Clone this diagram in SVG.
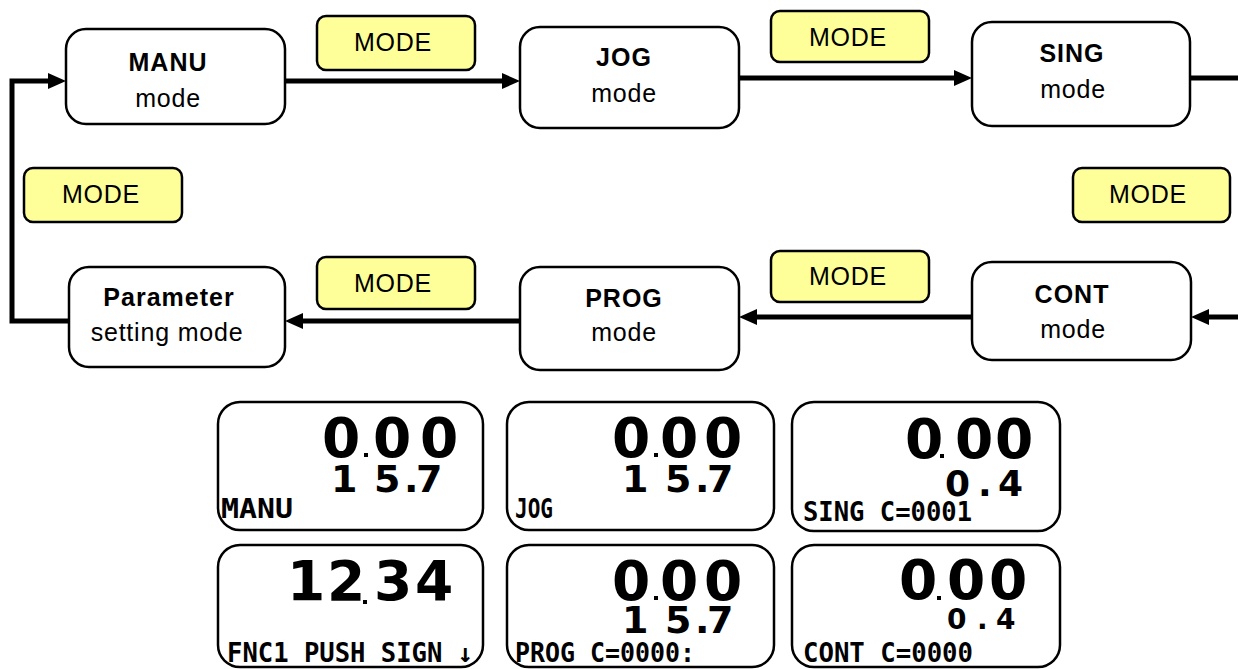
<svg xmlns="http://www.w3.org/2000/svg" width="1238" height="669" viewBox="0 0 1238 669">
<defs>
<style>
.box{fill:#fff;stroke:#000;stroke-width:2.5}
.lbl{fill:#ffff99;stroke:#000;stroke-width:2.5}
.lcd{fill:#fff;stroke:#000;stroke-width:2.5}
.t{font-family:"Liberation Sans",Arial,sans-serif;font-size:25px;fill:#000;text-anchor:middle;letter-spacing:0.8px}
.b{font-weight:bold;letter-spacing:1px}
.con{fill:none;stroke:#000;stroke-width:5}
.big{font-family:"DejaVu Sans",sans-serif;font-weight:bold;font-size:55px;fill:#000}
.mid{font-size:38px}
.sm{font-family:"DejaVu Sans Mono",monospace;font-weight:bold;font-size:26px;fill:#000}
</style>
<marker id="ah" markerUnits="userSpaceOnUse" markerWidth="18" markerHeight="16" refX="8" refY="8" orient="auto">
<path d="M0,0 L18,8 L0,16 z" fill="#000"/>
</marker>
</defs>
<rect width="1238" height="669" fill="#fff"/>

<g id="connectors">
<path class="con" d="M285,81 H510" marker-end="url(#ah)"/>
<path class="con" d="M739,78 H962" marker-end="url(#ah)"/>
<path class="con" d="M1190,78 H1238"/>
<path class="con" d="M1238,317 H1201" marker-end="url(#ah)"/>
<path class="con" d="M972,317 H749" marker-end="url(#ah)"/>
<path class="con" d="M520,321 H295" marker-end="url(#ah)"/>
<path class="con" d="M69,321 H12 V81 H56" marker-end="url(#ah)"/>
</g>

<g id="node-manu">
<rect class="box" x="66" y="29" width="219" height="95" rx="20"/>
<text class="t b" x="168" y="71">MANU</text>
<text class="t" x="168" y="107">mode</text>
</g>
<g id="node-jog">
<rect class="box" x="520" y="27" width="219" height="101" rx="20"/>
<text class="t b" x="624" y="66">JOG</text>
<text class="t" x="624" y="102">mode</text>
</g>
<g id="node-sing">
<rect class="box" x="972" y="22" width="218" height="104" rx="20"/>
<text class="t b" x="1072" y="62">SING</text>
<text class="t" x="1073" y="98">mode</text>
</g>
<g id="node-param">
<rect class="box" x="69" y="267" width="216" height="100" rx="20"/>
<text class="t b" x="169" y="306">Parameter</text>
<text class="t" x="167" y="341">setting mode</text>
</g>
<g id="node-prog">
<rect class="box" x="520" y="267" width="219" height="103" rx="20"/>
<text class="t b" x="624" y="307">PROG</text>
<text class="t" x="624" y="341">mode</text>
</g>
<g id="node-cont">
<rect class="box" x="972" y="262" width="219" height="98" rx="20"/>
<text class="t b" x="1072" y="303">CONT</text>
<text class="t" x="1073" y="338">mode</text>
</g>

<g id="label-mode-1">
<rect class="lbl" x="317" y="16" width="158" height="54" rx="9"/>
<text class="t" x="393" y="51">MODE</text>
</g>
<g id="label-mode-2">
<rect class="lbl" x="771" y="11" width="158" height="51" rx="9"/>
<text class="t" x="848" y="46">MODE</text>
</g>
<g id="label-mode-3">
<rect class="lbl" x="1073" y="168" width="157" height="54" rx="9"/>
<text class="t" x="1148" y="203">MODE</text>
</g>
<g id="label-mode-4">
<rect class="lbl" x="24" y="168" width="158" height="54" rx="9"/>
<text class="t" x="101" y="203">MODE</text>
</g>
<g id="label-mode-5">
<rect class="lbl" x="317" y="257" width="158" height="52" rx="9"/>
<text class="t" x="393" y="292">MODE</text>
</g>
<g id="label-mode-6">
<rect class="lbl" x="771" y="251" width="158" height="51" rx="9"/>
<text class="t" x="848" y="285">MODE</text>
</g>

<g id="lcd-manu">
<rect class="lcd" x="218" y="402" width="265" height="128" rx="22"/>
<text class="big"><tspan x="322 373 420" y="457">000</tspan><tspan class="mid" x="331 374 404 416" y="492">15.7</tspan></text>
<rect x="364" y="453" width="4" height="4"/>
<text class="sm" x="221" y="518" textLength="72" lengthAdjust="spacingAndGlyphs">MANU</text>
</g>
<g id="lcd-jog">
<rect class="lcd" x="507" y="402" width="267" height="128" rx="22"/>
<text class="big"><tspan x="612 660 704" y="457">000</tspan><tspan class="mid" x="622 665 695 707" y="492">15.7</tspan></text>
<rect x="654" y="453" width="4" height="4"/>
<text class="sm" x="515" y="518" textLength="38" lengthAdjust="spacingAndGlyphs">JOG</text>
</g>
<g id="lcd-sing">
<rect class="lcd" x="792" y="402" width="268" height="129" rx="22"/>
<text class="big"><tspan x="905 955 995" y="458">000</tspan><tspan class="mid" x="945 978 998" y="496" style="font-size:36px">0.4</tspan></text>
<rect x="940" y="454" width="4" height="4"/>
<text class="sm" x="803" y="521" textLength="169" lengthAdjust="spacingAndGlyphs">SING C=0001</text>
</g>
<g id="lcd-fnc">
<rect class="lcd" x="218" y="545" width="265" height="122" rx="22"/>
<text class="big" x="287 327 374 415" y="600">1234</text>
<rect x="363" y="600" width="4" height="4"/>
<text class="sm" x="227" y="662" textLength="246" lengthAdjust="spacingAndGlyphs">FNC1 PUSH SIGN ↓</text>
</g>
<g id="lcd-prog">
<rect class="lcd" x="507" y="545" width="267" height="122" rx="22"/>
<text class="big"><tspan x="612 660 704" y="600">000</tspan><tspan class="mid" x="622 665 695 707" y="633">15.7</tspan></text>
<rect x="654" y="596" width="4" height="4"/>
<text class="sm" x="515" y="662" textLength="180" lengthAdjust="spacingAndGlyphs">PROG C=0000:</text>
</g>
<g id="lcd-cont">
<rect class="lcd" x="792" y="545" width="268" height="122" rx="22"/>
<text class="big"><tspan x="899 947 989" y="599">000</tspan><tspan class="mid" x="947 977 996" y="629" style="font-size:28px">0.4</tspan></text>
<rect x="937" y="596" width="4" height="4"/>
<text class="sm" x="803" y="662" textLength="170" lengthAdjust="spacingAndGlyphs">CONT C=0000</text>
</g>
</svg>
